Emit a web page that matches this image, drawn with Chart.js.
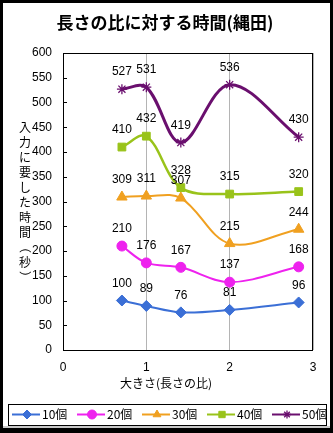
<!DOCTYPE html>
<html>
<head>
<meta charset="utf-8">
<script src="https://cdn.jsdelivr.net/npm/chart.js@4/dist/chart.umd.min.js"></script>
<style>
  html, body { margin: 0; padding: 0; background: #fff; }
  #wrap { width: 333px; height: 433px; }
</style>
</head>
<body>
<div id="wrap"><canvas id="timeChart" width="333" height="433"></canvas></div>
<script>
// sizes (length ratio) and input times in seconds
const sizes = [0.707, 1, 1.414, 2, 2.828];
const pieces10 = [100, 89, 76, 81, 96];
const pieces20 = [210, 176, 167, 137, 168];
const pieces30 = [309, 311, 307, 215, 244];
const pieces40 = [410, 432, 328, 315, 320];
const pieces50 = [527, 531, 419, 536, 430];
const seriesNames = ['10個', '20個', '30個', '40個', '50個'];
const titleText = '長さの比に対する時間(縄田)';
const xTitle = '大きさ(長さの比)';
// vertical axis title, one character per row; brackets get rotated
const yTitle = ['入', '力', 'に', '要', 'し', 'た', '時', '間', '（', '秒', '）'];

const jpFont = '"Noto Sans CJK JP", sans-serif';
const numFont = '"Liberation Sans", Arial, sans-serif';

const styles = [
  { color: '#3b6fd6', pointStyle: 'rectRot', radius: 5.5, width: 2 },
  { color: '#ee22ee', pointStyle: 'circle', radius: 5, width: 2 },
  { color: '#f0a020', pointStyle: 'triangle', radius: 6, width: 2 },
  { color: '#99c31a', pointStyle: 'rect', radius: 5.5, width: 2.5 },
  { color: '#6a0f6e', pointStyle: 'star', radius: 5, width: 3 }
];

function toPoints(values) {
  return values.map((v, i) => ({ x: sizes[i], y: v }));
}

const allSeries = [pieces10, pieces20, pieces30, pieces40, pieces50];
const datasets = allSeries.map((vals, i) => ({
  label: seriesNames[i],
  data: toPoints(vals),
  showLine: true,
  tension: 0.35,
  borderColor: styles[i].color,
  borderWidth: styles[i].width,
  pointStyle: styles[i].pointStyle,
  pointRadius: styles[i].radius,
  pointBackgroundColor: styles[i].color,
  pointBorderColor: styles[i].color,
  pointBorderWidth: styles[i].pointStyle === 'star' ? 1.3 : 1
}));

// white background, outer frame, titles, legend
const decorations = {
  id: 'decorations',
  beforeDraw(chart) {
    const ctx = chart.ctx;
    ctx.save();
    ctx.fillStyle = '#fff';
    ctx.fillRect(0, 0, chart.width, chart.height);
    ctx.restore();
  },
  afterDatasetsDraw(chart) {
    const ctx = chart.ctx;
    ctx.save();
    // value labels above each point
    ctx.fillStyle = '#000';
    ctx.font = '12px ' + numFont;
    ctx.textAlign = 'center';
    ctx.textBaseline = 'middle';
    chart.data.datasets.forEach((ds, i) => {
      chart.getDatasetMeta(i).data.forEach((pt, j) => {
        ctx.fillText(String(ds.data[j].y), pt.x, pt.y - 17);
      });
    });
    ctx.restore();
  },
  afterDraw(chart) {
    const ctx = chart.ctx;
    const area = chart.chartArea;
    ctx.save();

    // plot area frame and inward y ticks
    ctx.strokeStyle = '#000';
    ctx.lineWidth = 1;
    ctx.strokeRect(area.left + 0.5, area.top + 0.5, area.right - area.left - 1, area.bottom - area.top);
    const yScale = chart.scales.y;
    ctx.beginPath();
    yScale.ticks.forEach(t => {
      const y = Math.round(yScale.getPixelForValue(t.value)) + 0.5;
      ctx.moveTo(area.left, y);
      ctx.lineTo(area.left + 4, y);
    });
    ctx.stroke();

    // chart title
    ctx.fillStyle = '#000';
    ctx.textAlign = 'center';
    ctx.textBaseline = 'middle';
    ctx.font = 'bold 17px ' + jpFont;
    ctx.fillText(titleText, 165, 23);

    // x axis title
    ctx.font = '12px ' + jpFont;
    ctx.fillText(xTitle, 166, 383);

    // vertical y axis title
    ctx.font = '12px ' + jpFont;
    let ty = 127;
    yTitle.forEach(ch => {
      if (ch === '（' || ch === '）') {
        ctx.save();
        ctx.translate(25, ty);
        ctx.rotate(Math.PI / 2);
        ctx.fillText(ch, 0, 0);
        ctx.restore();
      } else {
        ctx.fillText(ch, 25, ty);
      }
      ty += 15;
    });

    // legend
    ctx.strokeStyle = '#000';
    ctx.lineWidth = 1;
    ctx.strokeRect(8.5, 404.5, 318, 21);
    const ly = 414.5;
    chart.data.datasets.forEach((ds, i) => {
      const x0 = 12 + i * 65;
      ctx.strokeStyle = ds.borderColor;
      ctx.lineWidth = 2;
      ctx.beginPath();
      ctx.moveTo(x0, ly);
      ctx.lineTo(x0 + 28, ly);
      ctx.stroke();
      ctx.fillStyle = ds.pointBackgroundColor;
      ctx.lineWidth = ds.pointBorderWidth;
      Chart.helpers.drawPoint(ctx, {
        pointStyle: ds.pointStyle,
        radius: ds.pointStyle === 'star' ? 4 : 4.5,
        rotation: 0,
        borderWidth: ds.pointBorderWidth
      }, x0 + 15, ly);
      ctx.fillStyle = '#000';
      ctx.textAlign = 'left';
      ctx.font = '12px ' + jpFont;
      ctx.fillText(ds.label, x0 + 30, ly);
    });

    // outer frame
    ctx.fillStyle = '#000';
    ctx.fillRect(0, 0, 333, 3);
    ctx.fillRect(0, 0, 3, 433);
    ctx.fillRect(330, 0, 3, 433);
    ctx.fillStyle = '#c8c8c8';
    ctx.fillRect(3, 426, 327, 2);
    ctx.fillStyle = '#000';
    ctx.fillRect(0, 428, 333, 5);
    ctx.restore();
  }
};

const ctx = document.getElementById('timeChart').getContext('2d');
new Chart(ctx, {
  type: 'scatter',
  data: { datasets: datasets },
  options: {
    responsive: false,
    animation: false,
    layout: { padding: { top: 53, right: 20, left: 0, bottom: 0 } },
    plugins: {
      legend: { display: false },
      title: { display: false },
      tooltip: { enabled: false }
    },
    scales: {
      x: {
        type: 'linear',
        min: 0,
        max: 3,
        ticks: { stepSize: 1, padding: 10, color: '#000', font: { family: numFont, size: 12 } },
        grid: { color: '#b4b4b4', drawTicks: false, lineWidth: 1 },
        border: { display: false },
        afterFit(scale) { scale.height = 83; }
      },
      y: {
        min: 0,
        max: 600,
        ticks: { stepSize: 50, padding: 11, color: '#000', font: { family: numFont, size: 12 } },
        grid: { display: false, drawTicks: false },
        border: { display: false },
        afterFit(scale) { scale.width = 63; }
      }
    }
  },
  plugins: [decorations]
});
</script>
</body>
</html>
